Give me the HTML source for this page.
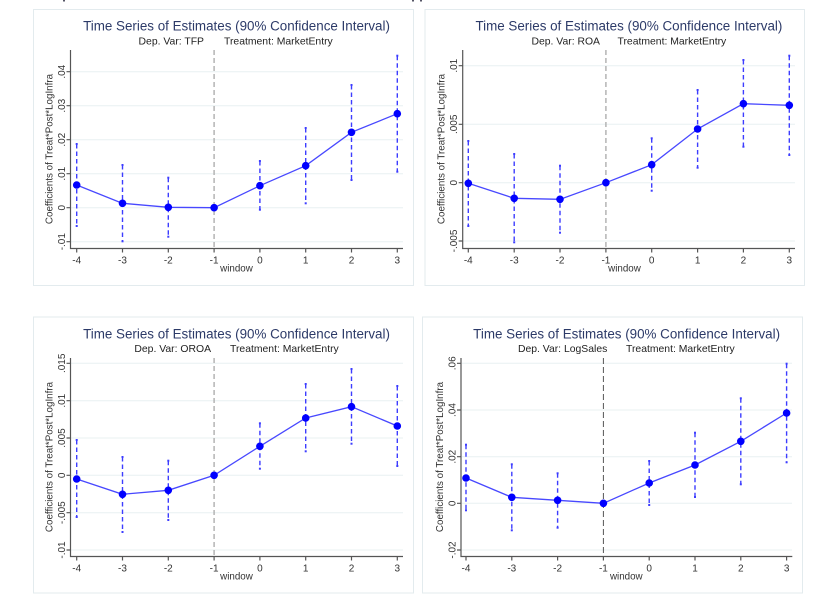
<!DOCTYPE html>
<html><head><meta charset="utf-8"><style>
html,body{margin:0;padding:0;background:#fff;}
svg{display:block;}
text{font-family:"Liberation Sans",Arial,sans-serif;}
.tt{font-size:13.4px;fill:#2c3a68;text-anchor:middle;}
.st{font-size:10.4px;fill:#222;}
.tk{font-size:10px;fill:#333;text-anchor:middle;}
.at{font-size:9.8px;fill:#333;text-anchor:middle;}
.grid line{stroke:#e8f0f2;stroke-width:1;}
.ax{stroke:#555;stroke-width:1.2;fill:none;}
.ci line{stroke:#3d3dff;stroke-width:1.4;stroke-dasharray:4.5,3;}
.cap rect{fill:#3d3dff;}
.ln{stroke:#4848ff;stroke-width:1.3;fill:none;}
.mk circle{fill:#0000ff;}
.vd{stroke:#b4b4b4;stroke-width:1.5;stroke-dasharray:5,3;}
.vd2{stroke:#555;stroke-width:1;stroke-dasharray:6,3;}
.bd{fill:none;stroke:#e3ebee;stroke-width:1;}
</style></head><body>
<svg width="831" height="596" viewBox="0 0 831 596" xmlns="http://www.w3.org/2000/svg">
<rect width="831" height="596" fill="#fff"/>
<rect x="63" y="0" width="2" height="1.5" fill="#556"/>
<rect x="412" y="0" width="2" height="1.5" fill="#556"/>
<rect x="420" y="0" width="2" height="1.5" fill="#556"/>

<!-- ================= PANEL 1 (TFP) ================= -->
<rect class="bd" x="33.5" y="9.5" width="380" height="276"/>
<text class="tt" x="236.5" y="30.7">Time Series of Estimates (90% Confidence Interval)</text>
<text class="st" x="204" y="44.3" text-anchor="end">Dep. Var: TFP</text>
<text class="st" x="224" y="44.3">Treatment: MarketEntry</text>
<g class="grid">
<line x1="71" x2="403" y1="71.7" y2="71.7"/><line x1="71" x2="403" y1="105.7" y2="105.7"/>
<line x1="71" x2="403" y1="139.7" y2="139.7"/><line x1="71" x2="403" y1="173.7" y2="173.7"/>
<line x1="71" x2="403" y1="207.7" y2="207.7"/><line x1="71" x2="403" y1="241.7" y2="241.7"/>
</g>
<line class="vd" x1="214.1" y1="50" x2="214.1" y2="248"/>
<path class="ax" d="M70.5 50 V248.5 H403"/>
<path class="ax" d="M66.5 71.7H70.5M66.5 105.7H70.5M66.5 139.7H70.5M66.5 173.7H70.5M66.5 207.7H70.5M66.5 241.7H70.5M76.7 248.5V252.5M122.5 248.5V252.5M168.3 248.5V252.5M214.1 248.5V252.5M259.9 248.5V252.5M305.7 248.5V252.5M351.5 248.5V252.5M397.3 248.5V252.5"/>
<g class="tk">
<text transform="translate(65,71.7) rotate(-90)">.04</text>
<text transform="translate(65,105.7) rotate(-90)">.03</text>
<text transform="translate(65,139.7) rotate(-90)">.02</text>
<text transform="translate(65,173.7) rotate(-90)">.01</text>
<text transform="translate(65,207.7) rotate(-90)">0</text>
<text transform="translate(65,241.7) rotate(-90)">-.01</text>
<text x="76.7" y="263.3">-4</text><text x="122.5" y="263.3">-3</text><text x="168.3" y="263.3">-2</text><text x="214.1" y="263.3">-1</text>
<text x="259.9" y="263.3">0</text><text x="305.7" y="263.3">1</text><text x="351.5" y="263.3">2</text><text x="397.3" y="263.3">3</text>
</g>
<text class="at" x="236.5" y="271.7">window</text>
<text class="at" transform="translate(52.5,149) rotate(-90)">Coefficients of Treat*Post*LogInfra</text>
<g class="ci">
<line x1="76.7" y1="144" x2="76.7" y2="226"/><line x1="122.5" y1="165" x2="122.5" y2="241.3"/>
<line x1="168.3" y1="177.7" x2="168.3" y2="236.7"/><line x1="259.9" y1="161" x2="259.9" y2="209.7"/>
<line x1="305.7" y1="128" x2="305.7" y2="203.3"/><line x1="351.5" y1="85" x2="351.5" y2="180"/>
<line x1="397.3" y1="55.7" x2="397.3" y2="171.7"/>
</g>
<g class="cap">
<rect x="75.7" y="143" width="2" height="2"/><rect x="75.7" y="225" width="2" height="2"/>
<rect x="121.5" y="164" width="2" height="2"/><rect x="121.5" y="240.3" width="2" height="2"/>
<rect x="167.3" y="176.7" width="2" height="2"/><rect x="167.3" y="235.7" width="2" height="2"/>
<rect x="258.9" y="160" width="2" height="2"/><rect x="258.9" y="208.7" width="2" height="2"/>
<rect x="304.7" y="127" width="2" height="2"/><rect x="304.7" y="202.3" width="2" height="2"/>
<rect x="350.5" y="84" width="2" height="2"/><rect x="350.5" y="179" width="2" height="2"/>
<rect x="396.3" y="54.7" width="2" height="2"/><rect x="396.3" y="170.7" width="2" height="2"/>
</g>
<polyline class="ln" points="76.7,185 122.5,203.3 168.3,207.3 214.1,207.7 259.9,185.7 305.7,165.7 351.5,132.3 397.3,113.7"/>
<g class="mk">
<circle cx="76.7" cy="185" r="3.8"/><circle cx="122.5" cy="203.3" r="3.8"/><circle cx="168.3" cy="207.3" r="3.8"/><circle cx="214.1" cy="207.7" r="3.8"/>
<circle cx="259.9" cy="185.7" r="3.8"/><circle cx="305.7" cy="165.7" r="3.8"/><circle cx="351.5" cy="132.3" r="3.8"/><circle cx="397.3" cy="113.7" r="3.8"/>
</g>

<!-- ================= PANEL 2 (ROA) ================= -->
<rect class="bd" x="425" y="9.5" width="379.5" height="276"/>
<text class="tt" x="628.9" y="30.7">Time Series of Estimates (90% Confidence Interval)</text>
<text class="st" x="600" y="44.3" text-anchor="end">Dep. Var: ROA</text>
<text class="st" x="617.5" y="44.3">Treatment: MarketEntry</text>
<g class="grid">
<line x1="463" x2="795" y1="65.7" y2="65.7"/><line x1="463" x2="795" y1="124.3" y2="124.3"/>
<line x1="463" x2="795" y1="182.7" y2="182.7"/><line x1="463" x2="795" y1="241" y2="241"/>
</g>
<line class="vd" x1="605.9" y1="50" x2="605.9" y2="248"/>
<path class="ax" d="M462.7 50 V248.5 H795"/>
<path class="ax" d="M458.7 65.7H462.7M458.7 124.3H462.7M458.7 182.7H462.7M458.7 241H462.7M468.3 248.5V252.5M514.2 248.5V252.5M560 248.5V252.5M605.9 248.5V252.5M651.7 248.5V252.5M697.6 248.5V252.5M743.4 248.5V252.5M789.3 248.5V252.5"/>
<g class="tk">
<text transform="translate(457.2,65.7) rotate(-90)">.01</text>
<text transform="translate(457.2,124.3) rotate(-90)">.005</text>
<text transform="translate(457.2,182.7) rotate(-90)">0</text>
<text transform="translate(457.2,241) rotate(-90)">-.005</text>
<text x="468.3" y="263.3">-4</text><text x="514.2" y="263.3">-3</text><text x="560" y="263.3">-2</text><text x="605.9" y="263.3">-1</text>
<text x="651.7" y="263.3">0</text><text x="697.6" y="263.3">1</text><text x="743.4" y="263.3">2</text><text x="789.3" y="263.3">3</text>
</g>
<text class="at" x="624.5" y="271.7">window</text>
<text class="at" transform="translate(444.7,149) rotate(-90)">Coefficients of Treat*Post*LogInfra</text>
<g class="ci">
<line x1="468.3" y1="141" x2="468.3" y2="226"/><line x1="514.2" y1="154" x2="514.2" y2="242.3"/>
<line x1="560" y1="165.7" x2="560" y2="232.7"/><line x1="651.7" y1="138.3" x2="651.7" y2="190.7"/>
<line x1="697.6" y1="90" x2="697.6" y2="167.7"/><line x1="743.4" y1="60" x2="743.4" y2="146.7"/>
<line x1="789.3" y1="55.7" x2="789.3" y2="155"/>
</g>
<g class="cap">
<rect x="467.3" y="140" width="2" height="2"/><rect x="467.3" y="225" width="2" height="2"/>
<rect x="513.2" y="153" width="2" height="2"/><rect x="513.2" y="241.3" width="2" height="2"/>
<rect x="559" y="164.7" width="2" height="2"/><rect x="559" y="231.7" width="2" height="2"/>
<rect x="650.7" y="137.3" width="2" height="2"/><rect x="650.7" y="189.7" width="2" height="2"/>
<rect x="696.6" y="89" width="2" height="2"/><rect x="696.6" y="166.7" width="2" height="2"/>
<rect x="742.4" y="59" width="2" height="2"/><rect x="742.4" y="145.7" width="2" height="2"/>
<rect x="788.3" y="54.7" width="2" height="2"/><rect x="788.3" y="154" width="2" height="2"/>
</g>
<polyline class="ln" points="468.3,183.3 514.2,198.3 560,199.3 605.9,182.7 651.7,164.7 697.6,129 743.4,103.7 789.3,105.3"/>
<g class="mk">
<circle cx="468.3" cy="183.3" r="3.8"/><circle cx="514.2" cy="198.3" r="3.8"/><circle cx="560" cy="199.3" r="3.8"/><circle cx="605.9" cy="182.7" r="3.8"/>
<circle cx="651.7" cy="164.7" r="3.8"/><circle cx="697.6" cy="129" r="3.8"/><circle cx="743.4" cy="103.7" r="3.8"/><circle cx="789.3" cy="105.3" r="3.8"/>
</g>

<!-- ================= PANEL 3 (OROA) ================= -->
<rect class="bd" x="33.5" y="317" width="380" height="276"/>
<text class="tt" x="236.5" y="338.7">Time Series of Estimates (90% Confidence Interval)</text>
<text class="st" x="211" y="352" text-anchor="end">Dep. Var: OROA</text>
<text class="st" x="230" y="352">Treatment: MarketEntry</text>
<g class="grid">
<line x1="71" x2="403" y1="363.3" y2="363.3"/><line x1="71" x2="403" y1="400.7" y2="400.7"/>
<line x1="71" x2="403" y1="438" y2="438"/><line x1="71" x2="403" y1="475.3" y2="475.3"/>
<line x1="71" x2="403" y1="512.7" y2="512.7"/><line x1="71" x2="403" y1="550" y2="550"/>
</g>
<line class="vd" x1="214.1" y1="358" x2="214.1" y2="556"/>
<path class="ax" d="M70.5 358 V556.5 H403"/>
<path class="ax" d="M66.5 363.3H70.5M66.5 400.7H70.5M66.5 438H70.5M66.5 475.3H70.5M66.5 512.7H70.5M66.5 550H70.5M76.7 556.5V560.5M122.5 556.5V560.5M168.3 556.5V560.5M214.1 556.5V560.5M259.9 556.5V560.5M305.7 556.5V560.5M351.5 556.5V560.5M397.3 556.5V560.5"/>
<g class="tk">
<text transform="translate(65,363.3) rotate(-90)">.015</text>
<text transform="translate(65,400.7) rotate(-90)">.01</text>
<text transform="translate(65,438) rotate(-90)">.005</text>
<text transform="translate(65,475.3) rotate(-90)">0</text>
<text transform="translate(65,512.7) rotate(-90)">-.005</text>
<text transform="translate(65,550) rotate(-90)">-.01</text>
<text x="76.7" y="571.3">-4</text><text x="122.5" y="571.3">-3</text><text x="168.3" y="571.3">-2</text><text x="214.1" y="571.3">-1</text>
<text x="259.9" y="571.3">0</text><text x="305.7" y="571.3">1</text><text x="351.5" y="571.3">2</text><text x="397.3" y="571.3">3</text>
</g>
<text class="at" x="236.5" y="579.7">window</text>
<text class="at" transform="translate(52.5,457) rotate(-90)">Coefficients of Treat*Post*LogInfra</text>
<g class="ci">
<line x1="76.7" y1="440" x2="76.7" y2="517"/><line x1="122.5" y1="457" x2="122.5" y2="532"/>
<line x1="168.3" y1="460.7" x2="168.3" y2="520"/><line x1="259.9" y1="423.3" x2="259.9" y2="468.7"/>
<line x1="305.7" y1="384" x2="305.7" y2="451.3"/><line x1="351.5" y1="369" x2="351.5" y2="443.7"/>
<line x1="397.3" y1="386" x2="397.3" y2="466"/>
</g>
<g class="cap">
<rect x="75.7" y="439" width="2" height="2"/><rect x="75.7" y="516" width="2" height="2"/>
<rect x="121.5" y="456" width="2" height="2"/><rect x="121.5" y="531" width="2" height="2"/>
<rect x="167.3" y="459.7" width="2" height="2"/><rect x="167.3" y="519" width="2" height="2"/>
<rect x="258.9" y="422.3" width="2" height="2"/><rect x="258.9" y="467.7" width="2" height="2"/>
<rect x="304.7" y="383" width="2" height="2"/><rect x="304.7" y="450.3" width="2" height="2"/>
<rect x="350.5" y="368" width="2" height="2"/><rect x="350.5" y="442.7" width="2" height="2"/>
<rect x="396.3" y="385" width="2" height="2"/><rect x="396.3" y="465" width="2" height="2"/>
</g>
<polyline class="ln" points="76.7,479 122.5,494.3 168.3,490.3 214.1,475.3 259.9,446.3 305.7,418 351.5,406.7 397.3,426"/>
<g class="mk">
<circle cx="76.7" cy="479" r="3.8"/><circle cx="122.5" cy="494.3" r="3.8"/><circle cx="168.3" cy="490.3" r="3.8"/><circle cx="214.1" cy="475.3" r="3.8"/>
<circle cx="259.9" cy="446.3" r="3.8"/><circle cx="305.7" cy="418" r="3.8"/><circle cx="351.5" cy="406.7" r="3.8"/><circle cx="397.3" cy="426" r="3.8"/>
</g>

<!-- ================= PANEL 4 (LogSales) ================= -->
<rect class="bd" x="422.5" y="317" width="380" height="276"/>
<text class="tt" x="626.6" y="338.7">Time Series of Estimates (90% Confidence Interval)</text>
<text class="st" x="607.3" y="352" text-anchor="end">Dep. Var: LogSales</text>
<text class="st" x="626" y="352">Treatment: MarketEntry</text>
<g class="grid">
<line x1="462" x2="792" y1="363.3" y2="363.3"/><line x1="462" x2="792" y1="410" y2="410"/>
<line x1="462" x2="792" y1="456.7" y2="456.7"/><line x1="462" x2="792" y1="503.3" y2="503.3"/>
<line x1="462" x2="792" y1="550" y2="550"/>
</g>
<line class="vd2" x1="603.4" y1="358" x2="603.4" y2="556"/>
<path class="ax" d="M461 358 V556.5 H792.3"/>
<path class="ax" d="M457 363.3H461M457 410H461M457 456.7H461M457 503.3H461M457 550H461M466 556.5V560.5M511.8 556.5V560.5M557.6 556.5V560.5M603.4 556.5V560.5M649.2 556.5V560.5M695 556.5V560.5M740.8 556.5V560.5M786.6 556.5V560.5"/>
<g class="tk">
<text transform="translate(455.5,363.3) rotate(-90)">.06</text>
<text transform="translate(455.5,410) rotate(-90)">.04</text>
<text transform="translate(455.5,456.7) rotate(-90)">.02</text>
<text transform="translate(455.5,503.3) rotate(-90)">0</text>
<text transform="translate(455.5,550) rotate(-90)">-.02</text>
<text x="466" y="571.3">-4</text><text x="511.8" y="571.3">-3</text><text x="557.6" y="571.3">-2</text><text x="603.4" y="571.3">-1</text>
<text x="649.2" y="571.3">0</text><text x="695" y="571.3">1</text><text x="740.8" y="571.3">2</text><text x="786.6" y="571.3">3</text>
</g>
<text class="at" x="626.3" y="579.7">window</text>
<text class="at" transform="translate(443,457) rotate(-90)">Coefficients of Treat*Post*LogInfra</text>
<g class="ci">
<line x1="466" y1="444.7" x2="466" y2="510.3"/><line x1="511.8" y1="464.3" x2="511.8" y2="530.3"/>
<line x1="557.6" y1="473.3" x2="557.6" y2="527.7"/><line x1="649.2" y1="461" x2="649.2" y2="505"/>
<line x1="695" y1="432.7" x2="695" y2="497"/><line x1="740.8" y1="398.3" x2="740.8" y2="484.3"/>
<line x1="786.6" y1="363.7" x2="786.6" y2="462.3"/>
</g>
<g class="cap">
<rect x="465" y="443.7" width="2" height="2"/><rect x="465" y="509.3" width="2" height="2"/>
<rect x="510.8" y="463.3" width="2" height="2"/><rect x="510.8" y="529.3" width="2" height="2"/>
<rect x="556.6" y="472.3" width="2" height="2"/><rect x="556.6" y="526.7" width="2" height="2"/>
<rect x="648.2" y="460" width="2" height="2"/><rect x="648.2" y="504" width="2" height="2"/>
<rect x="694" y="431.7" width="2" height="2"/><rect x="694" y="496" width="2" height="2"/>
<rect x="739.8" y="397.3" width="2" height="2"/><rect x="739.8" y="483.3" width="2" height="2"/>
<rect x="785.6" y="362.7" width="2" height="2"/><rect x="785.6" y="461.3" width="2" height="2"/>
</g>
<polyline class="ln" points="466,478 511.8,497.3 557.6,500.3 603.4,503.3 649.2,483 695,465 740.8,441.3 786.6,413"/>
<g class="mk">
<circle cx="466" cy="478" r="3.8"/><circle cx="511.8" cy="497.3" r="3.8"/><circle cx="557.6" cy="500.3" r="3.8"/><circle cx="603.4" cy="503.3" r="3.8"/>
<circle cx="649.2" cy="483" r="3.8"/><circle cx="695" cy="465" r="3.8"/><circle cx="740.8" cy="441.3" r="3.8"/><circle cx="786.6" cy="413" r="3.8"/>
</g>
</svg>
</body></html>
